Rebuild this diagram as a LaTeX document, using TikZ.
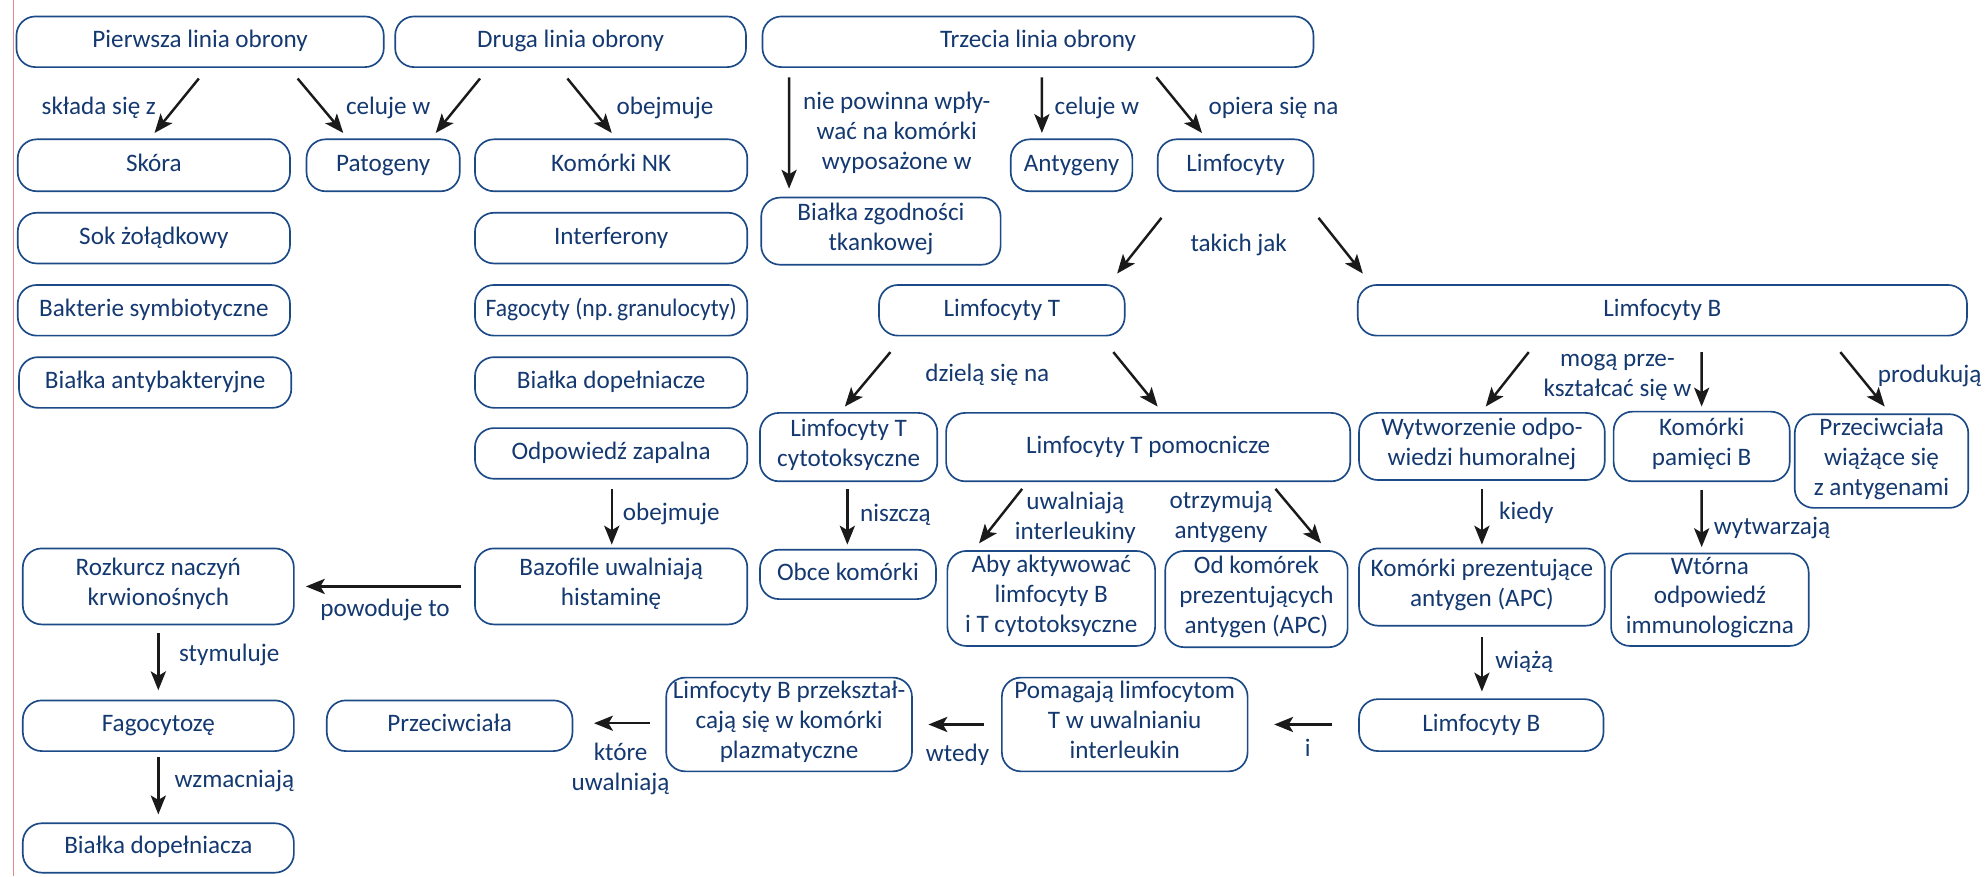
\documentclass[tikz,border=0pt]{standalone}
\usepackage{fontspec}
\setmainfont{Carlito}
\usetikzlibrary{arrows.meta}

\definecolor{inkblue}{RGB}{20,56,112}
\definecolor{edgeblue}{RGB}{28,74,134}
\definecolor{arrowink}{RGB}{26,26,26}
\definecolor{marginred}{RGB}{226,138,140}

% rounded box given by its corners: name, x1, y1, x2, y2, text
\newcommand\cmbox[6]{%
  \pgfmathsetmacro\cmboxw{(#4-#2)*0.02}%
  \pgfmathsetmacro\cmboxh{(#5-#3)*0.02}%
  \node[box, minimum width=\cmboxw cm, minimum height=\cmboxh cm] (#1) at ({(#2+#4)/2},{(#3+#5)/2}) {#6};}

\begin{document}
\begin{tikzpicture}[x=0.02cm, y=-0.02cm,
  box/.style={draw=edgeblue, line width=0.75pt, rounded corners=0.3cm, align=center,
    text=inkblue, font=\fontsize{11.3}{13.4}\selectfont, inner sep=1pt, outer sep=0pt,
    execute at begin node=\strut, execute at end node=\strut},
  lbl/.style={text=inkblue, align=center, font=\fontsize{11.3}{13.4}\selectfont, inner sep=0pt},
  arr/.style={draw=arrowink, line width=1.1pt, -{Stealth[length=8.5pt,width=6.8pt,inset=2pt]}},
]
\useasboundingbox (0,0) rectangle (1568,692);
\draw[marginred, line width=0.7pt] (10.5,0) -- (10.5,692);

% first row
\cmbox{pierwsza}{13}{13}{303}{53}{Pierwsza linia obrony}
\cmbox{druga}{312}{13}{589}{53}{Druga linia obrony}
\cmbox{trzecia}{602}{13}{1037}{53}{Trzecia linia obrony}

% first line of defence
\cmbox{skora}{14}{110}{229}{151}{Skóra}
\cmbox{sok}{14}{168}{229}{208}{Sok żołądkowy}
\cmbox{bakterie}{14}{225}{229}{265}{Bakterie symbiotyczne}
\cmbox{bialkaanty}{15}{282}{230}{322}{Białka antybakteryjne}
\cmbox{patogeny}{242}{110}{363}{151}{Patogeny}

% second line of defence
\cmbox{komnk}{375}{110}{590}{151}{Komórki NK}
\cmbox{interferony}{375}{168}{590}{208}{Interferony}
\cmbox{fagocyty}{375}{225}{590}{265}{\scalebox{0.94}[1]{Fagocyty (np.\,granulocyty)}}
\cmbox{dopelniacze}{375}{282}{590}{322}{Białka dopełniacze}
\cmbox{zapalna}{375}{338}{590}{378}{Odpowiedź zapalna}
\cmbox{bazofile}{375}{433}{590}{493}{Bazofile uwalniają\\histaminę}
\cmbox{rozkurcz}{18}{433}{232}{493}{Rozkurcz naczyń\\krwionośnych}
\cmbox{fagocytoze}{18}{553}{232}{593}{Fagocytozę}
\cmbox{dopelniacza}{18}{650}{232}{689}{Białka dopełniacza}

% third line of defence
\cmbox{bzt}{601}{156}{790}{209}{Białka zgodności\\tkankowej}
\cmbox{antygeny}{798}{110}{894}{151}{Antygeny}
\cmbox{limfocyty}{914}{110}{1037}{151}{Limfocyty}
\cmbox{ltT}{694}{225}{888}{265}{Limfocyty T}
\cmbox{ltB}{1072}{225}{1553}{265}{Limfocyty B}
\cmbox{ltcyto}{600}{326}{740}{380}{Limfocyty T\\cytotoksyczne}
\cmbox{ltpom}{747}{326}{1066}{380}{Limfocyty T pomocnicze}
\cmbox{obce}{600}{434}{739}{473}{Obce komórki}
\cmbox{aby}{748}{435}{912}{510}{Aby aktywować\\limfocyty B\\i T cytotoksyczne}
\cmbox{odkom}{920}{435}{1064}{511}{Od komórek\\prezentujących\\antygen (APC)}
\cmbox{wytw}{1073}{326}{1267}{379}{Wytworzenie odpo-\\wiedzi humoralnej}
\cmbox{pamieci}{1274}{325}{1413}{380}{Komórki\\pamięci B}
\cmbox{przwiaz}{1417}{327}{1554}{401}{Przeciwciała\\wiążące się\\z antygenami}
\cmbox{apc}{1073}{433}{1267}{494}{Komórki prezentujące\\antygen (APC)}
\cmbox{wtorna}{1272}{437}{1428}{510}{Wtórna\\odpowiedź\\immunologiczna}
\cmbox{lbdol}{1073}{552}{1266}{593}{Limfocyty B}
\cmbox{pomagaja}{791}{535}{985}{609}{Pomagają limfocytom\\T w uwalnianiu\\interleukin}
\cmbox{lbplazm}{526}{535}{720}{609}{Limfocyty B przekształ-\\cają się w komórki\\plazmatyczne}
\cmbox{przeciwciala}{258}{553}{452}{593}{Przeciwciała}

% connectors
\draw[arr] ([shift={(144,9)}]pierwsza.south west) -- ([shift={(108,-5)}]skora.north west);
\draw[arr] ([shift={(222,9)}]pierwsza.south west) -- ([shift={(29,-5)}]patogeny.north west);
\draw[arr] ([shift={(67,9)}]druga.south west) -- ([shift={(102,-5)}]patogeny.north west);
\draw[arr] ([shift={(136,9)}]druga.south west) -- ([shift={(108,-5)}]komnk.north west);
\draw[arr] ([shift={(21,8)}]trzecia.south west) -- ([shift={(22,-7)}]bzt.north west);
\draw[arr] ([shift={(220.6,8)}]trzecia.south west) -- ([shift={(24.6,-5)}]antygeny.north west);
\draw[arr] ([shift={(311,8)}]trzecia.south west) -- ([shift={(35,-5)}]limfocyty.north west);
\draw[arr] ([shift={(3,21)}]limfocyty.south west) -- ([shift={(188,-9)}]ltT.north west);
\draw[arr] ([shift={(127,21)}]limfocyty.south west) -- ([shift={(4,-9)}]ltB.north west);
\draw[arr] ([shift={(9,13)}]ltT.south west) -- ([shift={(67,-5)}]ltcyto.north west);
\draw[arr] ([shift={(185,13)}]ltT.south west) -- ([shift={(167,-5)}]ltpom.north west);
\draw[arr] ([shift={(69,6)}]ltcyto.south west) -- ([shift={(69,-4)}]obce.north west);
\draw[arr] ([shift={(60,6)}]ltpom.south west) -- ([shift={(25,-6)}]aby.north west);
\draw[arr] ([shift={(260,6)}]ltpom.south west) -- ([shift={(123,-6)}]odkom.north west);
\draw[arr] ([shift={(135,13)}]ltB.south west) -- ([shift={(100,-5)}]wytw.north west);
\draw[arr] ([shift={(271.5,13)}]ltB.south west) -- ([shift={(69.5,-4)}]pamieci.north west);
\draw[arr] ([shift={(381,13)}]ltB.south west) -- ([shift={(71,-6)}]przwiaz.north west);
\draw[arr] ([shift={(97,7)}]wytw.south west) -- ([shift={(97,-3)}]apc.north west);
\draw[arr] ([shift={(69.5,7)}]pamieci.south west) -- ([shift={(71.5,-5)}]wtorna.north west);
\draw[arr] ([shift={(97,9)}]apc.south west) -- ([shift={(97,-6)}]lbdol.north west);
\draw[arr] ([shift={(-21,-0.5)}]lbdol.west) -- ([shift={(21,0)}]pomagaja.east);
\draw[arr] ([shift={(-14,0)}]pomagaja.west) -- ([shift={(13,0)}]lbplazm.east);
\draw[arr] ([shift={(-13,-1)}]lbplazm.west) -- ([shift={(17,-2)}]przeciwciala.east);
\draw[arr] ([shift={(108,8)}]zapalna.south west) -- ([shift={(108,-3)}]bazofile.north west);
\draw[arr] ([shift={(-11,0)}]bazofile.west) -- ([shift={(9.5,0)}]rozkurcz.east);
\draw[arr] ([shift={(107,7)}]rozkurcz.south west) -- ([shift={(107,-8)}]fagocytoze.north west);
\draw[arr] ([shift={(107,5)}]fagocytoze.south west) -- ([shift={(107,-7)}]dopelniacza.north west);

% connector labels
\node[lbl] (l1) at (78,85) {składa się z};
\node[lbl] (l2) at (306.5,85) {celuje w};
\node[lbl] (l3) at (525,85) {obejmuje};
\node[lbl] (l4) at (708,105) {nie powinna wpły-\\wać na komórki\\wyposażone w};
\node[lbl] (l5) at (866,85) {celuje w};
\node[lbl] (l6) at (1005.5,85) {opiera się na};
\node[lbl] (l7) at (978,193.5) {takich jak};
\node[lbl] (l8) at (779.5,296) {dzielą się na};
\node[lbl] (l9) at (707,406.5) {niszczą};
\node[lbl] (l10) at (849,408.5) {uwalniają\\interleukiny};
\node[lbl] (l11) at (964,408.5) {otrzymują\\antygeny};
\node[lbl] (l12) at (530,406) {obejmuje};
\node[lbl] (l13) at (1277,298) {mogą prze-\\kształcać się w};
\node[lbl] (l14) at (1523.5,296.5) {produkują};
\node[lbl] (l15) at (1205,405) {kiedy};
\node[lbl] (l16) at (1399,417) {wytwarzają};
\node[lbl] (l17) at (1203.5,522.5) {wiążą};
\node[lbl] (l18) at (1032.5,590.5) {i};
\node[lbl] (l19) at (756,596) {wtedy};
\node[lbl] (l20) at (490,607) {które\\uwalniają};
\node[lbl] (l21) at (304,481.5) {powoduje to};
\node[lbl] (l22) at (181,517) {stymuluje};
\node[lbl] (l23) at (185,617) {wzmacniają};
\end{tikzpicture}
\end{document}
